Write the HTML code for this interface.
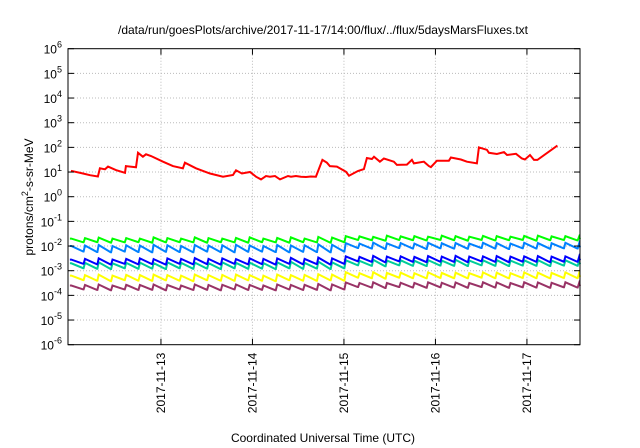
<!DOCTYPE html>
<html><head><meta charset="utf-8"><style>
body{margin:0;background:#fff;}
svg{display:block;font-family:"Liberation Sans",sans-serif;}
</style></head><body>
<svg id="c" width="640" height="448">
<text x="323" y="34" font-size="12" text-anchor="middle">/data/run/goesPlots/archive/2017-11-17/14:00/flux/../flux/5daysMarsFluxes.txt</text>
<g id="grid"></g>
<g id="series"></g>
<rect x="68" y="48.7" width="512" height="296" fill="none" stroke="#000" stroke-width="1"/>
<g id="axes"></g>
<text x="323" y="442" font-size="12" text-anchor="middle">Coordinated Universal Time (UTC)</text>
<text transform="translate(33,197) rotate(-90)" font-size="12" text-anchor="middle">protons/cm<tspan dy="-5" font-size="9">2</tspan><tspan dy="5">-s-sr-MeV</tspan></text>
</svg>
<script>
const xTickDays=[1,2,3,4,5];
const xTickLabels=["2017-11-13","2017-11-14","2017-11-15","2017-11-16","2017-11-17"];
const yTickExps=[6,5,4,3,2,1,0,-1,-2,-3,-4,-5,-6];
// red series: days since 2017-11-12 00:00, log10 flux
const redT=[0.017,0.148,0.224,0.311,0.333,0.388,0.421,0.508,0.607,0.617,0.727,0.749,0.803,0.836,0.891,1.022,1.131,1.240,1.262,1.383,1.536,1.677,1.787,1.820,1.885,1.973,2.039,2.093,2.191,2.246,2.301,2.388,2.421,2.475,2.530,2.585,2.617,2.650,2.719,2.770,2.770,2.855,2.770].slice(0,0);
const redX=[0.017,0.148,0.224,0.311,0.333,0.388,0.421,0.508,0.607,0.617,0.727,0.749,0.803,0.836,0.891,1.022,1.131,1.240,1.262,1.383,1.536,1.678,1.787,1.820,1.885,1.973,2.039,2.093,2.148,2.191,2.246,2.301,2.388,2.421,2.475,2.530,2.585,2.639,2.694,2.617+0.148,2.770+0.044,2.770+0.077,2.770+0.153,2.770+0.252,2.770+0.285,2.770+0.383,2.770+0.448,2.770+0.481,2.770+0.536,2.770+0.558,2.770+0.623,2.770+0.667,2.770+0.776,2.770+0.809,2.770+0.918,2.770+0.973,2.770+0.995,2.770+1.104,2.770+1.159,2.770+1.180,2.770+1.246,2.770+1.377,2.770+1.399,2.770+1.508,2.770+1.574,2.770+1.683,2.770+1.705,2.770+1.792,2.770+1.814,2.770+1.902,2.770+1.979,2.770+2.012,2.770+2.110,2.770+2.175,2.770+2.208,2.770+2.263,2.770+2.307,2.770+2.344,2.770+2.563];
const redV=[1.05,0.94,0.87,0.82,1.15,1.11,1.22,1.08,0.97,1.24,1.19,1.78,1.62,1.72,1.65,1.42,1.24,1.15,1.38,1.15,0.94,0.81,0.88,1.07,0.94,1.00,0.81,0.70,0.84,0.81,0.84,0.70,0.84,0.81,0.84,0.81,0.80,0.82,0.81,1.49,1.38,1.24,1.22,1.01,0.85,1.04,1.12,1.57,1.53,1.62,1.42,1.55,1.42,1.29,1.30,1.49,1.35,1.42,1.24,1.20,1.46,1.46,1.59,1.51,1.42,1.35,2.00,1.90,1.78,1.73,1.81,1.69,1.74,1.55,1.51,1.69,1.49,1.49,2.07,2.00,2.07,1.70].slice(0,82);
// sawtooth series: tooth start days, peak & trough values (log10)
const toothT=[0.0,0.15,0.30,0.45,0.60,0.75,0.90,1.05,1.20,1.35,1.50,1.65,1.80,1.95,2.10,2.25,2.40,2.55,2.70,2.85,3.00,3.15,3.30,3.45,3.60,3.75,3.90,4.05,4.20,4.35,4.50,4.65,4.80,4.95,5.10,5.25,5.40,5.55];
const greenP=[-1.70,-1.68,-1.66,-1.70,-1.68,-1.70,-1.65,-1.68,-1.70,-1.65,-1.68,-1.70,-1.67,-1.65,-1.70,-1.67,-1.65,-1.70,-1.63,-1.66,-1.60,-1.61,-1.63,-1.58,-1.61,-1.60,-1.62,-1.58,-1.60,-1.62,-1.59,-1.60,-1.62,-1.59,-1.58,-1.61,-1.60,-1.62];
const greenTr=[-1.85,-1.84,-1.86,-1.85,-1.84,-1.86,-1.85,-1.84,-1.85,-1.86,-1.84,-1.85,-1.86,-1.84,-1.85,-1.86,-1.84,-1.85,-1.86,-1.84,-1.75,-1.76,-1.78,-1.75,-1.76,-1.77,-1.75,-1.76,-1.78,-1.75,-1.77,-1.76,-1.75,-1.78,-1.76,-1.75,-1.77,-1.72];
const lblueP=[-2.00,-1.98,-1.96,-2.00,-1.97,-1.98,-1.95,-1.97,-2.00,-1.96,-1.98,-1.97,-1.95,-1.98,-2.00,-1.96,-1.98,-1.97,-1.93,-1.95,-1.88,-1.90,-1.86,-1.89,-1.88,-1.90,-1.87,-1.89,-1.88,-1.90,-1.87,-1.88,-1.90,-1.87,-1.88,-1.89,-1.87,-1.90];
const lblueTr=[-2.22,-2.24,-2.25,-2.22,-2.24,-2.25,-2.23,-2.24,-2.25,-2.22,-2.24,-2.25,-2.23,-2.22,-2.24,-2.25,-2.23,-2.24,-2.25,-2.22,-2.08,-2.10,-2.12,-2.08,-2.10,-2.12,-2.09,-2.10,-2.11,-2.08,-2.10,-2.12,-2.09,-2.10,-2.11,-2.09,-2.10,-2.05];
const blueP=[-2.55,-2.52,-2.50,-2.55,-2.52,-2.50,-2.53,-2.50,-2.52,-2.49,-2.52,-2.50,-2.53,-2.50,-2.52,-2.50,-2.48,-2.52,-2.47,-2.50,-2.42,-2.44,-2.40,-2.43,-2.42,-2.44,-2.41,-2.43,-2.40,-2.43,-2.42,-2.41,-2.43,-2.42,-2.41,-2.43,-2.42,-2.44];
const blueTr=[-2.72,-2.74,-2.75,-2.72,-2.74,-2.73,-2.75,-2.72,-2.74,-2.73,-2.75,-2.72,-2.74,-2.73,-2.75,-2.72,-2.74,-2.73,-2.75,-2.72,-2.62,-2.64,-2.66,-2.62,-2.64,-2.65,-2.63,-2.64,-2.65,-2.62,-2.64,-2.65,-2.63,-2.64,-2.65,-2.63,-2.64,-2.58];
const tealP=[-2.70,-2.68,-2.66,-2.70,-2.68,-2.67,-2.69,-2.66,-2.68,-2.67,-2.69,-2.66,-2.68,-2.67,-2.69,-2.66,-2.64,-2.68,-2.63,-2.66,-2.58,-2.60,-2.56,-2.59,-2.58,-2.60,-2.57,-2.59,-2.56,-2.59,-2.58,-2.57,-2.59,-2.58,-2.57,-2.59,-2.58,-2.60];
const tealTr=[-2.90,-2.92,-2.93,-2.90,-2.92,-2.91,-2.93,-2.90,-2.92,-2.91,-2.93,-2.90,-2.92,-2.91,-2.93,-2.90,-2.92,-2.91,-2.93,-2.90,-2.78,-2.80,-2.82,-2.78,-2.80,-2.81,-2.79,-2.80,-2.81,-2.78,-2.80,-2.81,-2.79,-2.80,-2.81,-2.79,-2.80,-2.74];
const yellowP=[-3.20,-3.18,-3.16,-3.20,-3.17,-3.18,-3.16,-3.18,-3.20,-3.16,-3.18,-3.17,-3.16,-3.18,-3.20,-3.16,-3.18,-3.17,-3.14,-3.16,-3.06,-3.10,-3.06,-3.09,-3.08,-3.10,-3.07,-3.09,-3.08,-3.10,-3.07,-3.08,-3.10,-3.07,-3.08,-3.09,-3.07,-3.10];
const yellowTr=[-3.38,-3.40,-3.42,-3.38,-3.40,-3.41,-3.39,-3.40,-3.42,-3.38,-3.40,-3.41,-3.39,-3.40,-3.42,-3.38,-3.40,-3.41,-3.39,-3.40,-3.28,-3.30,-3.32,-3.28,-3.30,-3.31,-3.29,-3.30,-3.31,-3.28,-3.30,-3.31,-3.29,-3.30,-3.31,-3.29,-3.30,-3.25];
const purpleP=[-3.60,-3.58,-3.56,-3.60,-3.57,-3.58,-3.56,-3.58,-3.60,-3.56,-3.58,-3.57,-3.56,-3.58,-3.60,-3.56,-3.58,-3.57,-3.54,-3.56,-3.48,-3.50,-3.47,-3.50,-3.49,-3.50,-3.47,-3.49,-3.48,-3.50,-3.47,-3.48,-3.50,-3.47,-3.48,-3.49,-3.47,-3.50];
const purpleTr=[-3.76,-3.78,-3.79,-3.76,-3.78,-3.77,-3.79,-3.76,-3.78,-3.77,-3.79,-3.76,-3.78,-3.77,-3.79,-3.76,-3.78,-3.77,-3.79,-3.76,-3.66,-3.68,-3.70,-3.66,-3.68,-3.69,-3.67,-3.68,-3.69,-3.66,-3.68,-3.69,-3.67,-3.68,-3.69,-3.67,-3.68,-3.62];

const NS="http://www.w3.org/2000/svg";
const X0=68,X1=580,Y0=48.7,Y1=344.7,D0=-0.016,D1=5.58;
function xs(d){return X0+(d-D0)/(D1-D0)*(X1-X0);}
function ys(l){return Y0+(6-l)/12*(Y1-Y0);}
function mk(tag,attrs,parent){const e=document.createElementNS(NS,tag);for(const k in attrs)e.setAttribute(k,attrs[k]);parent.appendChild(e);return e;}
const grid=document.getElementById('grid'),axes=document.getElementById('axes'),ser=document.getElementById('series');
yTickExps.forEach(function(e){
  const y=ys(e);
  if(e<6&&e>-6){const g=mk('line',{x1:X0,x2:X1,y1:y,y2:y,stroke:'#bbb','stroke-dasharray':'1,2'},grid);
  
  }
  mk('line',{x1:X0,x2:X0+6,y1:y,y2:y,stroke:'#000'},axes);
  mk('line',{x1:X1,x2:X1-6,y1:y,y2:y,stroke:'#000'},axes);
  const t=mk('text',{x:62,y:y+5,'font-size':'12','text-anchor':'end'},axes);
  
  
  t.innerHTML='10<tspan dy="-6" font-size="9">'+e+'</tspan>';
});
xTickDays.forEach(function(d,i){
  const x=xs(d);
  const g=mk('line',{x1:x,x2:x,y1:Y0,y2:Y1,stroke:'#bbb','stroke-dasharray':'1,2'},grid);
  
  
  mk('line',{x1:x,x2:x,y1:Y1,y2:Y1-6,stroke:'#000'},axes);
  mk('line',{x1:x,x2:x,y1:Y0,y2:Y0+6,stroke:'#000'},axes);
  const t=mk('text',{transform:'translate('+(x+4)+','+(Y1+8)+') rotate(-90)','font-size':'12','text-anchor':'end'},axes);
  
  
  t.textContent=xTickLabels[i];
});
function line(pts,color,name){
  const p=mk('polyline',{points:pts.map(function(q){return xs(q[0]).toFixed(1)+','+ys(q[1]).toFixed(1);}).join(' '),fill:'none',stroke:color,'stroke-width':'2','stroke-linejoin':'miter'},ser);
  
  
}
function saw(P,T,color,name){
  const pts=[];
  for(let k=0;k<toothT.length;k++){
    pts.push([toothT[k]+0.005,k===0?P[k]:T[k-1]]);
    pts.push([toothT[k]+0.02,P[k]]);
    pts.push([Math.min(toothT[k]+0.15,D1),T[k]]);
  }
  line(pts,color,name);
}
const n=Math.min(redX.length,redV.length);
const rp=[];for(let i=0;i<n;i++)rp.push([redX[i],redV[i]]);
saw(purpleP,purpleTr,'#993366','series-purple');
saw(yellowP,yellowTr,'#ffff00','series-yellow');
saw(tealP,tealTr,'#00cc99','series-teal');
saw(blueP,blueTr,'#0000ff','series-blue');
saw(lblueP,lblueTr,'#0080ff','series-light-blue');
saw(greenP,greenTr,'#00ff00','series-green');
line(rp,'#ff0000','series-red');
</script>
</body></html>
